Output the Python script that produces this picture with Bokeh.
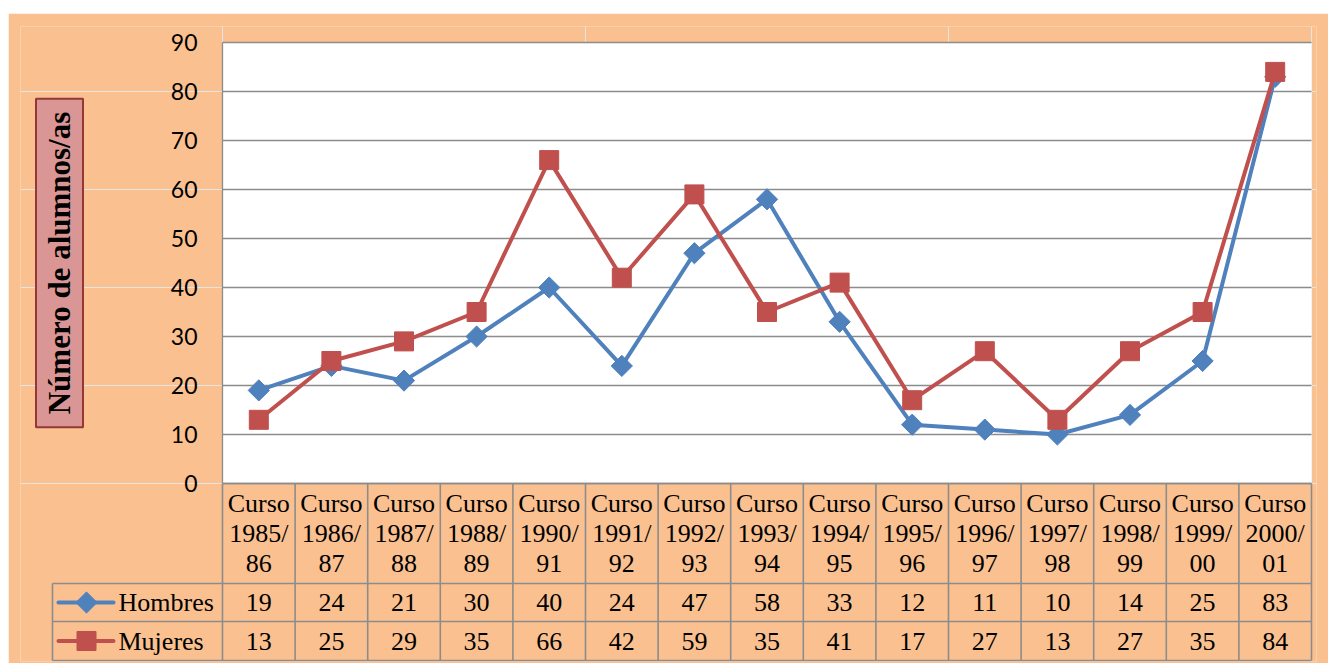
import math
from bokeh.plotting import figure
from bokeh.layouts import column, row
from bokeh.models import Range1d, LinearAxis, FixedTicker, Label, Spacer
from bokeh.core.properties import value
from bokeh.embed import file_html
from bokeh.resources import INLINE

# ---------------- data ----------------
categories = ["Curso 1985/86", "Curso 1986/87", "Curso 1987/88", "Curso 1988/89",
              "Curso 1990/91", "Curso 1991/92", "Curso 1992/93", "Curso 1993/94",
              "Curso 1994/95", "Curso 1995/96", "Curso 1996/97", "Curso 1997/98",
              "Curso 1998/99", "Curso 1999/00", "Curso 2000/01"]
hombres = [19, 24, 21, 30, 40, 24, 47, 58, 33, 12, 11, 10, 14, 25, 83]
mujeres = [13, 25, 29, 35, 66, 42, 59, 35, 41, 17, 27, 13, 27, 35, 84]
series_names = ["Hombres", "Mujeres"]
y_ticks = [0, 10, 20, 30, 40, 50, 60, 70, 80, 90]
y_title = "Número de alumnos/as"

# ---------------- style ----------------
PEACH = "#FAC090"
BLUE = "#4F81BD"
RED = "#C0504D"
GRID = "#8C8C8C"
TBL = "#8C8C8C"
SERIF = "Liberation Serif"

# ---------------- layout (page pixels) ----------------
OX, OY = 8, 13                                # figure top-left on the page
W, H = 1320, 650
FL, FR, FT, FB = 20, 1316, 26, 661            # frame
PL, PR, PT, PB = 222, 1311, 42, 483           # plot area
LEG_L = 52                                    # left edge of legend column
n = len(categories)
cw = (PR - PL) / n
ky = (PB - PT) / (max(y_ticks) - min(y_ticks))


def xd(px):
    return (px - PL) / cw


x_start, x_end = xd(FL), n + (FR - PR) / cw
y_start, y_end = -(FB - PB) / ky, max(y_ticks) + (PT - FT) / ky

# table rows, in px below the plot bottom
HDR, R1, R2 = 100, 138, 177
hdr_lines = [20, 50, 80]
r1c, r2c = (HDR + R1) / 2, (R1 + R2) / 2

p = figure(width=W, height=H, x_range=Range1d(x_start, x_end),
           y_range=Range1d(y_start, y_end), output_backend="svg",
           toolbar_location=None, tools="", title=None,
           x_axis_location=None, y_axis_location=None,
           min_border_left=FL - OX, min_border_right=(OX + W) - FR,
           min_border_top=FT - OY, min_border_bottom=(OY + H) - FB)
p.extra_y_ranges = {"tbl": Range1d(start=FB - PB, end=-(PB - FT))}
p.background_fill_color = PEACH
p.border_fill_color = PEACH
p.outline_line_color = None

# plot area
p.quad(left=0, right=n, bottom=min(y_ticks), top=max(y_ticks),
       fill_color="white", line_color=None)
# gridlines
p.segment(x0=[0] * len(y_ticks), x1=[n] * len(y_ticks), y0=y_ticks, y1=y_ticks,
          line_color=GRID, line_width=1.3)

# y axis at plot left
yaxis = LinearAxis(ticker=FixedTicker(ticks=y_ticks), fixed_location=0,
                   bounds=(min(y_ticks), max(y_ticks)))
yaxis.axis_line_color = GRID
yaxis.axis_line_width = 1.3
yaxis.major_tick_line_color = None
yaxis.minor_tick_line_color = None
yaxis.major_tick_out = 0
yaxis.major_tick_in = 0
yaxis.major_label_standoff = 25
yaxis.major_label_text_font = "Lato"
yaxis.major_label_text_font_size = "23px"
yaxis.major_label_text_color = "black"
p.add_layout(yaxis, "left")

# series
xs = [i + 0.5 for i in range(n)]
p.line(xs, hombres, line_color=BLUE, line_width=4, line_join="round")
p.scatter(xs, hombres, marker="square", angle=math.pi / 4, size=15,
          fill_color=BLUE, line_color=BLUE)
p.line(xs, mujeres, line_color=RED, line_width=4, line_join="round")
p.scatter(xs, mujeres, marker="square", size=19, fill_color=RED, line_color=RED)

# data table borders
bounds = list(range(n + 1))
p.segment(x0=bounds, x1=bounds, y0=[0] * len(bounds), y1=[R2] * len(bounds),
          y_range_name="tbl", line_color=TBL, line_width=1.6)
p.segment(x0=[0, xd(LEG_L), xd(LEG_L), xd(LEG_L)], x1=[n, n, n, n],
          y0=[0, HDR, R1, R2], y1=[0, HDR, R1, R2],
          y_range_name="tbl", line_color=TBL, line_width=1.6)
p.segment(x0=[xd(LEG_L)], x1=[xd(LEG_L)], y0=[HDR], y1=[R2],
          y_range_name="tbl", line_color=TBL, line_width=1.6)

# header text
parts = [c.split(" ") for c in categories]
line1 = [pp[0] for pp in parts]
line2 = [pp[1].split("/")[0] + "/" for pp in parts]
line3 = [pp[1].split("/")[1] for pp in parts]
txt_kw = dict(y_range_name="tbl", text_align="center", text_baseline="middle",
              text_font=value(SERIF), text_font_size="26px", text_color="black")
for yy, ln in zip(hdr_lines, [line1, line2, line3]):
    p.text(x=xs, y=[yy] * n, text=ln, **txt_kw)

# values rows
p.text(x=xs, y=[r1c] * n, text=[str(v) for v in hombres], **txt_kw)
p.text(x=xs, y=[r2c] * n, text=[str(v) for v in mujeres], **txt_kw)

# legend column
for yy, col, name, sz, ang in [(r1c, BLUE, series_names[0], 15, math.pi / 4),
                               (r2c, RED, series_names[1], 19, 0)]:
    p.segment(x0=[xd(58)], x1=[xd(113)], y0=[yy], y1=[yy], y_range_name="tbl",
              line_color=col, line_width=4, line_cap="round")
    p.scatter(x=[xd(86)], y=[yy], y_range_name="tbl", marker="square", size=sz,
              angle=ang, fill_color=col, line_color=col)
    p.text(x=[xd(118)], y=[yy], text=[name], y_range_name="tbl",
           text_align="left", text_baseline="middle", text_font=value(SERIF),
           text_font_size="26px", text_color="black")

# y axis title box
lab = Label(x=59 - FL, y=FB - 262.5, x_units="screen", y_units="screen",
            text=y_title, angle=math.pi / 2, text_align="center",
            text_baseline="middle", text_font=SERIF, text_font_style="bold",
            text_font_size="31px", text_color="black",
            background_fill_color="#D99694", border_line_color="#953735",
            border_line_width=2,
            padding={"left": 13, "right": 13, "top": 6, "bottom": 6})
p.add_layout(lab)

layout = column(Spacer(height=OY), row(Spacer(width=OX), p))
open("out.html", "w").write(file_html(layout, INLINE))
